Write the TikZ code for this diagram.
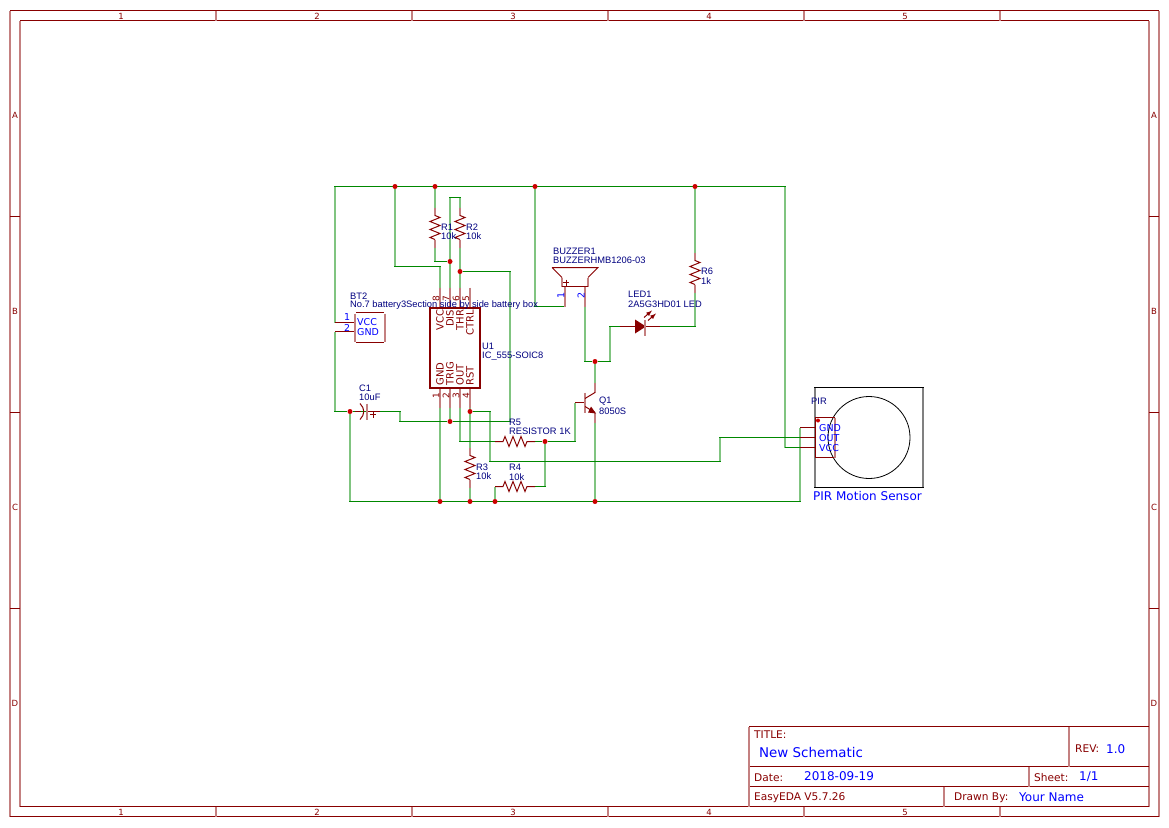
\documentclass[tikz,border=0pt]{standalone}
\usepackage{fontspec}
\setmainfont{DejaVu Sans}
\newfontfamily\partfont{Liberation Sans}
\usetikzlibrary{backgrounds}
\definecolor{framered}{HTML}{880000}
\definecolor{palered}{HTML}{C48080}
\definecolor{wiregreen}{HTML}{008800}
\definecolor{palegreen}{HTML}{80C480}
\definecolor{partblue}{HTML}{000080}
\definecolor{pinblue}{HTML}{0000FF}
\definecolor{junctionred}{HTML}{CC0000}
\tikzset{
	hline/.style={draw=framered,line width=1pt},
	vline/.style={draw=palered,line width=2pt},
	hwire/.style={draw=wiregreen,line width=1pt},
	vwire/.style={draw=palegreen,line width=2pt},
	icline/.style={draw=framered,line width=2pt},
	junction/.style={circle,fill=junctionred,inner sep=0pt,minimum size=5pt},
	parttext/.style={anchor=west,inner sep=0pt,text=partblue,font=\partfont\fontsize{9.33}{9.33}\selectfont},
	pintext/.style={anchor=west,inner sep=0pt,text=pinblue,font=\fontsize{9.5}{9.5}\selectfont},
	ictext/.style={inner sep=0pt,rotate=90,text=framered,font=\fontsize{10}{10}\selectfont},
	zonetext/.style={inner sep=0pt,text=framered,font=\fontsize{8.5}{8.5}\selectfont},
	titletext/.style={anchor=west,inner sep=0pt,text=framered,font=\fontsize{10.6}{10.6}\selectfont},
	valuetext/.style={anchor=west,inner sep=0pt,text=pinblue,font=\fontsize{#1}{#1}\selectfont},
	valuetext/.default=12,
}
\newcommand{\resv}[2]{%
	\draw[vline] (#1,#2) -- ++(0,8) (#1,#2+32) -- ++(0,8);
	\draw[hline] (#1,#2+8) -- ++(5,2) -- ++(-10,4) -- ++(10,4) -- ++(-10,4) -- ++(10,4) -- ++(-10,4) -- ++(5,2);}
\newcommand{\resh}[2]{%
	\draw[hline] (#1,#2) -- ++(8,0) -- ++(2,-5) -- ++(4,10) -- ++(4,-10) -- ++(4,10) -- ++(4,-10) -- ++(4,10) -- ++(2,-5) -- ++(8,0);}
\begin{document}
\begin{tikzpicture}[x=1pt,y=-1pt]
	\useasboundingbox (0,0) rectangle (1169,827);
	\begin{scope}[yshift=-0.5pt]
	% sheet frame
	\draw[vline] (10,10) -- (10,816) (20,20) -- (20,806) (1149,20) -- (1149,806) (1159,10) -- (1159,816);
	\draw[hline] (10,10) -- (1159,10) (20,20) -- (1149,20) (20,806) -- (1149,806) (10,816) -- (1159,816);
	\foreach \x in {216,412,608,804,1000} {
		\draw[vline] (\x,10) -- (\x,20);
		\draw[vline] (\x,806) -- (\x,816);
	}
	\foreach \y in {216,412,608} {
		\draw[hline] (10,\y) -- (20,\y);
		\draw[hline] (1149,\y) -- (1159,\y);
	}
	\foreach \x/\t in {121/1,317/2,513/3,709/4,905/5} {
		\node[zonetext] (top\t) at (\x,15.5) {\t};
		\node[zonetext] (bot\t) at (\x,811.5) {\t};
	}
	\foreach \y/\t in {115/A,311/B,507/C,703/D} {
		\node[zonetext] (left\t) at (15,\y) {\t};
		\node[zonetext] (right\t) at (1154,\y) {\t};
	}
	% title block
	\draw[hline] (749,726) -- (1149,726) (749,766) -- (1149,766) (749,786) -- (1149,786);
	\draw[vline] (749,726) -- (749,806) (1069,726) -- (1069,766) (1029,766) -- (1029,786) (944,786) -- (944,806);
	\node[titletext] (titlelabel) at (754,734) {TITLE:};
	\node[valuetext=13.4] (titlevalue) at (759,752) {New Schematic};
	\node[titletext] (revlabel) at (1075,748) {REV:};
	\node[valuetext=12] (revvalue) at (1106,749) {1.0};
	\node[titletext] (datelabel) at (754,777) {Date:};
	\node[valuetext=12] (datevalue) at (804,776) {2018-09-19};
	\node[titletext] (sheetlabel) at (1034,777) {Sheet:};
	\node[valuetext=12] (sheetvalue) at (1079,776) {1/1};
	\node[titletext] (version) at (754,797) {EasyEDA V5.7.26};
	\node[titletext] (drawnlabel) at (954,797) {Drawn By:};
	\node[valuetext=12] (drawnvalue) at (1019,797) {Your Name};
	% junctions
	\node[junction] (top395) at (395,186) {};
	\node[junction] (top435) at (435,186) {};
	\node[junction] (top535) at (535,186) {};
	\node[junction] (top695) at (695,186) {};
	\node[junction] (dis) at (450,261) {};
	\node[junction] (thr) at (460,271) {};
	\node[junction] (capneg) at (350,411) {};
	\node[junction] (rst) at (470,411) {};
	\node[junction] (trig) at (450,421) {};
	\node[junction] (outnet) at (545,441) {};
	\node[junction] (collector) at (595,361) {};
	\node[junction] (bot440) at (440,501) {};
	\node[junction] (bot470) at (470,501) {};
	\node[junction] (bot495) at (495,501) {};
	\node[junction] (bot595) at (595,501) {};
	% pin ends
	\coordinate (btone) at (335,322);
	\coordinate (bttwo) at (335,331);
	\coordinate (icvcc) at (440,287);
	\coordinate (icdis) at (450,287);
	\coordinate (icthr) at (460,287);
	\coordinate (icgnd) at (440,407);
	\coordinate (ictrig) at (450,407);
	\coordinate (icout) at (460,407);
	\coordinate (icrst) at (470,407);
	\coordinate (pirgnd) at (800,427);
	\coordinate (pirout) at (800,437);
	\coordinate (pirvcc) at (800,447);
	% wires
	\begin{scope}[on background layer]
	\draw[vwire] (335,186) -- (btone) (bttwo) -- (335,411) (785,186) -- (785,447);
	\draw[vwire] (top395) -- (395,266) (440,266) -- (icvcc) (top435) -- (435,207) (435,247) -- (435,261);
	\draw[vwire] (icdis) -- (450,197) (460,197) -- (460,207) (460,247) -- (icthr);
	\draw[vwire] (top535) -- (535,306) (top695) -- (695,252) (695,292) -- (695,326);
	\draw[vwire] (585,306) -- (585,361) (610,361) -- (610,326) (collector) -- (595,382) (595,422) -- (bot595);
	\draw[vwire] (icgnd) -- (bot440) (ictrig) -- (trig) (icout) -- (460,441) (icrst) -- (470,447) (470,487) -- (bot470);
	\draw[vwire] (400,411) -- (400,421) (510,421) -- (510,271) (575,441) -- (575,402);
	\draw[vwire] (outnet) -- (545,486) (bot495) -- (495,486) (490,411) -- (490,461) (720,461) -- (720,437);
	\draw[vwire] (capneg) -- (350,501) (800,501) -- (pirgnd);
	\draw[hwire] (334,186) -- (785.5,186) (785,447) -- (pirvcc) (334,411) -- (capneg) -- (380,411) (380,411) -- (401,411);
	\draw[hwire] (399,421) -- (trig) -- (511,421) (thr) -- (511,271) (394,266) -- (441,266);
	\draw[hwire] (434,261) -- (dis) (449,197) -- (461,197) (534,306) -- (565,306) (696,326) -- (660,326);
	\draw[hwire] (584,361) -- (collector) -- (611,361) (609,326) -- (620,326);
	\draw[hwire] (459,441) -- (495,441) (535,441) -- (outnet) -- (576,441) (546,486) -- (535,486);
	\draw[hwire] (rst) -- (491,411) (489,461) -- (721,461) (719,437) -- (pirout) (349,501) -- (801,501);
	\end{scope}
	% resistors
	\resv{435}{207}
	\resv{460}{207}
	\resv{470}{447}
	\resv{695}{252}
	\resh{495}{441}
	\resh{495}{486}
	\node[parttext] (r1name) at (441,227) {R1};
	\node[parttext] (r1val) at (441,236) {10k};
	\node[parttext] (r2name) at (466,227) {R2};
	\node[parttext] (r2val) at (466,236) {10k};
	\node[parttext] (r3name) at (476,467) {R3};
	\node[parttext] (r3val) at (476,476) {10k};
	\node[parttext] (r4name) at (509,467) {R4};
	\node[parttext] (r4val) at (509,477) {10k};
	\node[parttext] (r5name) at (509,422) {R5};
	\node[parttext] (r5val) at (509,431) {RESISTOR 1K};
	\node[parttext] (r6name) at (701,271) {R6};
	\node[parttext] (r6val) at (701,281) {1k};
	% battery box
	\draw[hline] (btone) -- (355,322) (bttwo) -- (355,331);
	\draw[vline] (355,313) -- (355,341) (385,313) -- (385,341);
	\draw[hline] (356,312) -- (384,312) (356,342) -- (384,342);
	\node[pintext] (btvcc) at (357,322) {VCC};
	\node[pintext] (btgnd) at (357,332) {GND};
	\node[pintext] (btpin1) at (344,317) {1};
	\node[pintext] (btpin2) at (344,327) {2};
	% 555 timer
	\foreach \x in {440,450,460,470} {
		\draw[vline] (\x,287) -- (\x,306);
		\draw[vline] (\x,388) -- (\x,407);
	}
	\draw[icline] (430,307) rectangle (480,387);
	\foreach \x/\t/\p in {440/VCC/8,450/DIS/7,460/THR/6,470/CTRL/5} {
		\node[ictext,anchor=east] (ic\t) at (\x,309) {\t};
		\node[ictext,font=\fontsize{9}{9}\selectfont] (pin\p) at (\x-4,298) {\p};
	}
	\foreach \x/\t/\p in {440/GND/1,450/TRIG/2,460/OUT/3,470/RST/4} {
		\node[ictext,anchor=west] (ic\t) at (\x,385) {\t};
		\node[ictext,font=\fontsize{9}{9}\selectfont] (pin\p) at (\x-4,395) {\p};
	}
	\node[parttext] (u1name) at (482,346) {U1};
	\node[parttext] (u1val) at (482,356) {IC\_555-SOIC8};
	\node[parttext] (btname) at (350,296) {BT2};
	\node[parttext] (btval) at (350,305) {No.7 battery3Section side by side battery box};
	% capacitor
	\draw[hline] (355,411) -- (361,411) (368,411) -- (380,411);
	\draw[hline] (360,403) .. controls (365,408) and (365,414) .. (360,419);
	\draw[vline] (367,403) -- (367,419);
	\draw[hline] (370,414) -- (376,414) (373,411) -- (373,417);
	\node[parttext] (c1name) at (359,388) {C1};
	\node[parttext] (c1val) at (359,397) {10uF};
	% buzzer
	\draw[hline] (552,267) -- (598,267) -- (588,277) (552,267) -- (562,277);
	\draw[vline] (562,277) -- (562,286) (588,277) -- (588,286);
	\draw[hline] (562,286) -- (588,286);
	\draw[vline] (565,286) -- (565,306) (585,286) -- (585,306);
	\draw[hline] (563,282) -- (569,282) (566,279) -- (566,285);
	\node[pintext,rotate=90,anchor=center] (buzpin1) at (561,295) {1};
	\node[pintext,rotate=90,anchor=center] (buzpin2) at (581,295) {2};
	\node[parttext] (buzname) at (553,251) {BUZZER1};
	\node[parttext] (buzval) at (553,260) {BUZZERHMB1206-03};
	% led
	\draw[hline] (620,326) -- (635,326) (645,326) -- (660,326);
	\fill[framered] (635,319) -- (646,326) -- (635,333) -- cycle;
	\draw[vline] (645,319) -- (645,335);
	\draw[hline,-latex] (644,317) -- (652,310);
	\draw[hline,-latex] (648,320) -- (656,313);
	\node[parttext] (ledname) at (628,294) {LED1};
	\node[parttext] (ledval) at (628,304) {2A5G3HD01 LED};
	% transistor
	\draw[hline] (575,402) -- (585,402);
	\draw[vline] (585,392) -- (585,412) (595,382) -- (595,392) (595,412) -- (595,422);
	\draw[hline] (595,392) -- (585,398) (585,406) -- (595,412);
	\fill[framered] (596,413) -- (588,412) -- (591,406) -- cycle;
	\node[parttext] (q1name) at (599,401) {Q1};
	\node[parttext] (q1val) at (599,411) {8050S};
	% pir sensor
	\draw[draw=black!50,line width=2pt] (815,387) -- (815,487) (923,387) -- (923,487);
	\draw[black,line width=1pt] (814,387) -- (924,387) (814,487) -- (924,487);
	\draw[black,line width=0.8pt] (869,437) circle (41);
	\draw[hline] (pirgnd) -- (815,427) (pirout) -- (815,437) (pirvcc) -- (815,447);
	\draw[hline] (815,417) -- (835,417) (815,457) -- (835,457);
	\draw[vline] (835,417) -- (835,457);
	\draw[hline] (815.5,417) -- (815.5,457);
	\node[junction,minimum size=4pt] (pirdot) at (818,420) {};
	\node[pintext] (pirgndt) at (819,427.5) {GND};
	\node[pintext] (pirouttext) at (819,437.5) {OUT};
	\node[pintext] (pirvcct) at (819,447.5) {VCC};
	\node[parttext] (pirname) at (811,401) {PIR};
	\node[valuetext=12] (pirtitle) at (813,496) {PIR Motion Sensor};
	\end{scope}
\end{tikzpicture}
\end{document}
